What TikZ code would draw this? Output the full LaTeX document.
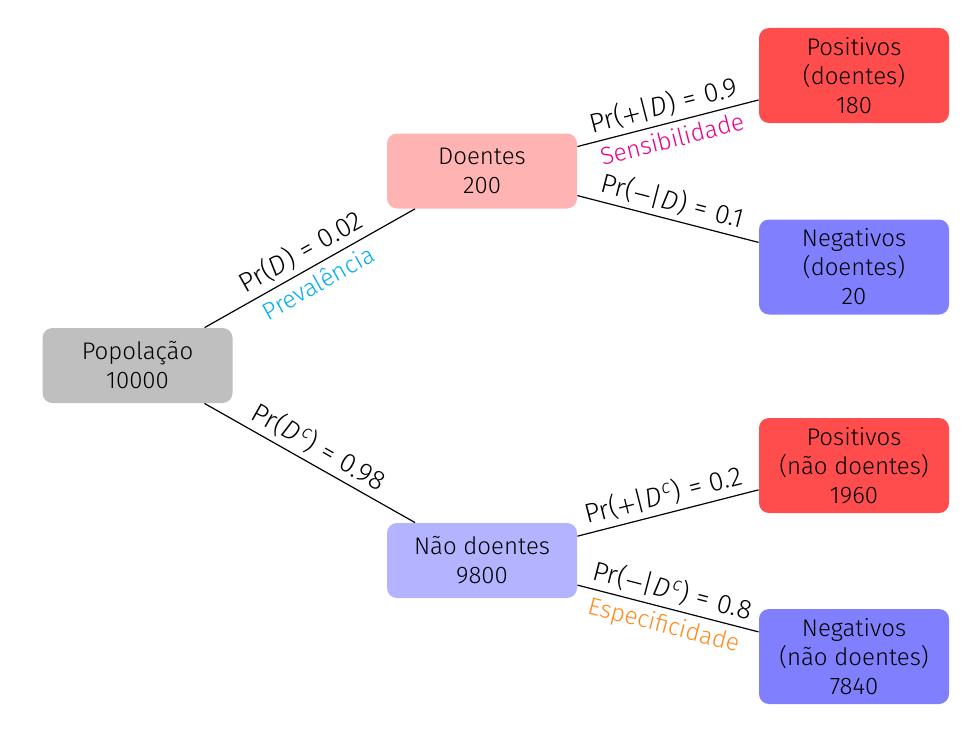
\documentclass[tikz,border=0pt]{standalone}
\usepackage{fontspec}
\setmainfont{Fira Sans Light}[ItalicFont={Fira Sans Light Italic}]
\definecolor{cPrev}{HTML}{00AEEF}
\definecolor{cSens}{HTML}{EC008C}
\definecolor{cEsp}{HTML}{FF8A1C}
\definecolor{cGray}{HTML}{BFBFBF}
\definecolor{cDoe}{HTML}{FFB3B3}
\definecolor{cPos}{HTML}{FF4D4D}
\definecolor{cNeg}{HTML}{8080FF}
\definecolor{cNao}{HTML}{B3B3FF}
\newcommand{\iD}{\textit{D}\kern0.5pt}
\newcommand{\myc}{\textsuperscript{\kern0.3pt\textit{c}}}
\newcommand{\mymin}{\kern0.5pt\rule[0.26em]{0.55em}{0.045em}\kern0.5pt}
\newcommand{\myplus}{\kern0.5pt\rlap{\rule[0.26em]{0.55em}{0.045em}}\kern0.2525em\rule[0.0075em]{0.045em}{0.55em}\kern0.2525em\kern0.5pt}
\newcommand{\eq}{\hspace{0.3em}=\hspace{0.3em}}
\begin{document}
\begin{tikzpicture}[x=0.5pt,y=-0.5pt,
  box/.style={rounded corners=5pt,minimum width=95pt,minimum height=37.5pt,align=center,font=\fontsize{12}{14.5}\selectfont,inner sep=0pt},
  leaf/.style={box,minimum height=47.5pt},
  lab/.style={sloped,font=\fontsize{13.5}{15}\selectfont,inner sep=2.5pt},
  clab/.style={sloped,font=\fontsize{12.2}{14}\selectfont,inner sep=3pt},
  edge/.style={draw,line width=0.6pt}]
\useasboundingbox (0,0) rectangle (978,733);
\node[box,fill=cGray] (pop) at (137.5,365.5) {Popolação\\10000};
\node[box,fill=cDoe] (doe) at (482,171) {Doentes\\200};
\node[box,fill=cNao] (nao) at (482,560.5) {Não doentes\\9800};
\node[leaf,fill=cPos] (pd) at (854,75.5) {Positivos\\(doentes)\\180};
\node[leaf,fill=cNeg] (nd) at (854,267) {Negativos\\(doentes)\\20};
\node[leaf,fill=cPos] (pn) at (854,465.5) {Positivos\\(não doentes)\\1960};
\node[leaf,fill=cNeg] (nn) at (854,656.5) {Negativos\\(não doentes)\\7840};
\path[edge] (pop) -- node[lab,above]{Pr(\iD)\eq 0.02} node[clab,below,text=cPrev]{Prevalência} (doe);
\path[edge] (pop) -- node[lab,above]{Pr(\iD\myc)\eq 0.98} (nao);
\path[edge] (doe) -- node[lab,above]{Pr(\myplus|\iD)\eq 0.9} node[clab,below,text=cSens]{Sensibilidade} (pd);
\path[edge] (doe) -- node[lab,above]{Pr(\mymin|\iD)\eq 0.1} (nd);
\path[edge] (nao) -- node[lab,above]{Pr(\myplus|\iD\myc)\eq 0.2} (pn);
\path[edge] (nao) -- node[lab,above]{Pr(\mymin|\iD\myc)\eq 0.8} node[clab,below,text=cEsp]{Especificidade} (nn);
\end{tikzpicture}
\end{document}
